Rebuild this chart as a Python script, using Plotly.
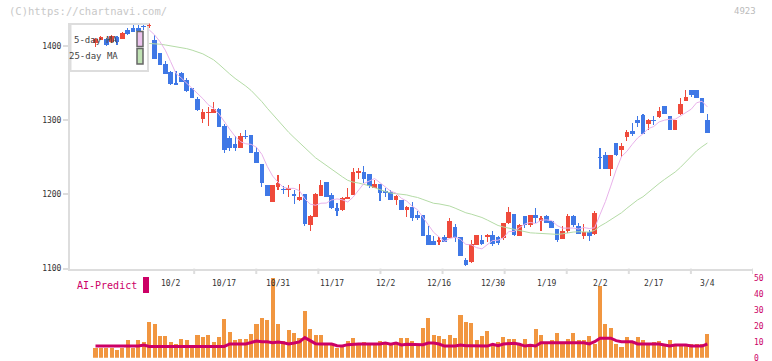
import numpy as np
import pandas as pd
import plotly.graph_objects as go

# ---------------- data ----------------
opens = [1403, 1408, 1409, 1405, 1412, 1409, 1421, 1424, 1424, 1427,
         1426, 1407, 1390, 1375, 1364, 1350, 1363, 1354, 1343, 1328,
         1302, 1309, 1309, 1315, 1292, 1276, 1268, 1262, 1278, 1280,
         1257, 1241, 1212, 1190, 1210, 1207, 1206, 1200, 1192, 1200,
         1159, 1170, 1198, 1216, 1199, 1181, 1179, 1194, 1199, 1229,
         1230, 1227, 1209, 1214, 1205, 1203, 1192, 1192, 1179, 1183,
         1172, 1172, 1145, 1137, 1136, 1142, 1141, 1156, 1143, 1111,
         1109, 1132, 1139, 1142, 1145, 1142, 1141, 1161, 1173, 1144,
         1171, 1159, 1172, 1164, 1171, 1164, 1153, 1140, 1150, 1171,
         1158, 1144, 1149, 1147, 1250, 1253, 1234, 1269, 1260, 1277,
         1285, 1300, 1307, 1295, 1300, 1304, 1319, 1305, 1287, 1308,
         1325, 1341, 1341, 1330, 1300]
highs = [1410, 1413, 1410, 1414, 1413, 1419, 1424, 1428, 1428, 1428,
         1430, 1415, 1390, 1380, 1366, 1366, 1364, 1356, 1343, 1331,
         1315, 1318, 1324, 1316, 1294, 1279, 1278, 1282, 1286, 1280,
         1264, 1241, 1212, 1212, 1226, 1211, 1212, 1206, 1214, 1200,
         1172, 1202, 1219, 1217, 1202, 1188, 1197, 1209, 1235, 1236,
         1238, 1227, 1219, 1214, 1209, 1206, 1199, 1193, 1184, 1190,
         1177, 1172, 1157, 1144, 1143, 1145, 1168, 1160, 1143, 1114,
         1139, 1145, 1145, 1146, 1150, 1144, 1162, 1183, 1174, 1160,
         1171, 1172, 1182, 1171, 1172, 1164, 1153, 1157, 1173, 1172,
         1161, 1160, 1152, 1177, 1262, 1257, 1253, 1269, 1269, 1287,
         1296, 1305, 1308, 1301, 1305, 1317, 1319, 1305, 1300, 1329,
         1341, 1341, 1341, 1330, 1308]
lows = [1398, 1407, 1400, 1404, 1401, 1409, 1415, 1419, 1420, 1421,
        1424, 1382, 1374, 1362, 1347, 1347, 1351, 1338, 1329, 1312,
        1296, 1292, 1309, 1291, 1256, 1258, 1258, 1262, 1274, 1256,
        1242, 1210, 1198, 1190, 1206, 1200, 1197, 1187, 1191, 1157,
        1151, 1170, 1198, 1196, 1180, 1171, 1177, 1194, 1199, 1220,
        1215, 1209, 1209, 1191, 1197, 1192, 1186, 1179, 1170, 1164,
        1165, 1144, 1132, 1132, 1132, 1136, 1141, 1136, 1117, 1104,
        1108, 1132, 1132, 1136, 1130, 1132, 1139, 1160, 1144, 1144,
        1154, 1156, 1161, 1151, 1161, 1154, 1136, 1140, 1148, 1156,
        1147, 1140, 1137, 1145, 1234, 1234, 1225, 1252, 1250, 1272,
        1278, 1291, 1281, 1286, 1293, 1303, 1308, 1287, 1287, 1307,
        1325, 1331, 1330, 1310, 1283]
closes = [1409, 1412, 1401, 1413, 1405, 1417, 1416, 1419, 1420, 1425,
          1427, 1382, 1374, 1362, 1348, 1347, 1351, 1339, 1329, 1314,
          1311, 1310, 1315, 1291, 1260, 1262, 1262, 1279, 1277, 1256,
          1242, 1215, 1198, 1212, 1215, 1206, 1209, 1198, 1196, 1160,
          1171, 1201, 1212, 1197, 1181, 1178, 1195, 1197, 1230, 1231,
          1220, 1211, 1214, 1202, 1202, 1192, 1198, 1179, 1183, 1168,
          1168, 1144, 1132, 1132, 1139, 1136, 1164, 1141, 1117, 1105,
          1133, 1145, 1133, 1145, 1133, 1135, 1161, 1176, 1145, 1159,
          1159, 1172, 1168, 1168, 1161, 1154, 1139, 1150, 1171, 1159,
          1147, 1149, 1144, 1175, 1249, 1234, 1253, 1253, 1265, 1284,
          1281, 1296, 1281, 1300, 1298, 1312, 1308, 1287, 1300, 1321,
          1331, 1334, 1330, 1310, 1283]
volume = [6.3, 6.3, 6.3, 6.3, 4.8, 6.3, 11.1, 6.3, 11.1, 10.1,
          22.2, 21.2, 13.6, 13.6, 9.9, 8.6, 11.7, 11.1, 6.3, 14.3,
          13.2, 14.3, 9.9, 13.2, 24.3, 16.4, 11.1, 11.7, 11.7, 14.9,
          21.2, 24.9, 23.7, 52.0, 21.2, 10.7, 17.4, 15.7, 12.6, 29.4,
          18.0, 14.3, 14.3, 8.6, 8.6, 6.3, 6.9, 10.7, 12.4, 8.6,
          10.1, 8.6, 8.6, 10.5, 8.6, 8.6, 8.6, 12.3, 12.3, 10.6,
          8.8, 18.4, 24.7, 14.0, 13.4, 11.7, 14.0, 12.4, 26.8, 22.2,
          21.8, 11.1, 13.6, 16.6, 8.6, 9.6, 12.8, 11.7, 11.7, 8.6,
          11.7, 8.6, 17.8, 14.3, 8.6, 11.1, 15.5, 8.6, 11.7, 15.5,
          10.9, 10.9, 13.4, 8.6, 44.7, 21.2, 18.4, 8.6, 6.5, 13.0,
          10.7, 13.0, 10.9, 9.4, 9.6, 10.5, 8.4, 11.1, 8.6, 8.6,
          8.6, 8.6, 8.6, 8.6, 14.9]
ai_predict = [7.3, 7.3, 7.3, 7.3, 7.3, 7.3, 7.3, 7.3, 7.3, 8.0,
              7.1, 7.1, 7.1, 7.1, 7.1, 7.1, 7.1, 7.1, 7.1, 7.1,
              7.1, 7.1, 7.1, 7.1, 7.1, 8.6, 8.6, 8.6, 8.6, 9.5,
              10.5, 10.0, 10.0, 9.4, 9.9, 9.4, 8.6, 9.2, 9.9, 12.6,
              10.9, 8.8, 8.6, 8.6, 8.6, 7.5, 7.3, 8.2, 8.6, 8.6,
              8.6, 8.6, 8.6, 8.6, 9.2, 8.4, 9.2, 8.0, 8.4, 8.4,
              8.4, 8.2, 9.2, 9.2, 8.6, 7.3, 7.3, 7.3, 8.0, 7.5,
              7.5, 7.3, 7.3, 7.3, 8.4, 7.5, 8.6, 8.6, 9.0, 8.4,
              7.3, 7.8, 7.3, 9.4, 9.4, 9.4, 9.4, 9.4, 9.4, 9.4,
              9.4, 9.4, 8.6, 10.0, 12.2, 12.2, 12.2, 10.7, 10.0, 10.0,
              10.0, 8.6, 8.6, 8.6, 8.6, 8.6, 8.0, 7.3, 8.0, 8.0,
              8.0, 7.3, 7.3, 7.3, 8.6]
# 25-day MA for days 10..23 (earlier history not on the chart)
ma25_early = [1403, 1403, 1402, 1401, 1400, 1399, 1397, 1396, 1394, 1392,
              1389, 1385, 1381, 1375]
date_labels = ["10/2", "10/17", "10/31", "11/17", "12/2", "12/16",
               "12/30", "1/19", "2/2", "2/17", "3/4"]
date_label_idx = [14, 24, 34, 44, 54, 64, 74, 84, 94, 104, 114]
price_ticks = [1100, 1200, 1300, 1400]
vol_ticks = [0, 10, 20, 30, 40, 50]

# ---------------- derived ----------------
n = len(closes)
x = np.arange(n)
O = np.array(opens, float); C = np.array(closes, float)
H = np.array(highs, float); L = np.array(lows, float)
s = pd.Series(C)
ma5 = s.rolling(5).mean().to_numpy()
ma5[:10] = np.nan
ma25 = s.rolling(25).mean().to_numpy()
ma25[:10] = np.nan
ma25[10:10 + len(ma25_early)] = ma25_early

RED = "#ef4a3b"
BLUE = "#3f78e6"
colors = np.where(C >= O, RED, BLUE)
body_base = np.minimum(O, C)
body_h = np.maximum(np.abs(C - O), 1.3)

FONT = "DejaVu Sans Mono"
W, Hh = 772, 361
def px_x(p):
    return p / W
def px_y(p):
    return (Hh - p) / Hh

XR = [-4.75, 122.5]

fig = go.Figure()
fig.add_trace(go.Scatter(x=x, y=ma25, mode="lines", line=dict(color="#b4dba6", width=1),
                         xaxis="x", yaxis="y", hoverinfo="skip"))
fig.add_trace(go.Scatter(x=x, y=ma5, mode="lines", line=dict(color="#e8b2ea", width=1),
                         xaxis="x", yaxis="y", hoverinfo="skip"))
fig.add_trace(go.Bar(x=x, y=H - L, base=L, width=0.2, marker=dict(color=colors, line=dict(width=0)),
                     xaxis="x", yaxis="y"))
fig.add_trace(go.Bar(x=x, y=body_h, base=body_base, width=0.86,
                     marker=dict(color=colors, line=dict(width=0)), xaxis="x", yaxis="y"))
fig.add_trace(go.Bar(x=x, y=volume, width=0.76, marker=dict(color="#f19640", line=dict(width=0)),
                     xaxis="x2", yaxis="y2"))
fig.add_trace(go.Scatter(x=x, y=ai_predict, mode="lines", line=dict(color="#cc0066", width=3),
                         xaxis="x2", yaxis="y2"))

shapes = []
# x tick marks (evenly spaced grid ticks below the price axis)
step = (XR[1] - XR[0]) / 11
for k in range(2, 12):
    xv = XR[0] + k * step
    shapes.append(dict(type="line", xref="x", yref="paper", x0=xv, x1=xv,
                       y0=px_y(268.6), y1=px_y(274), line=dict(color="#dddddd", width=2)))
# legend box (price chart)
shapes.append(dict(type="rect", xref="paper", yref="paper", x0=px_x(70.5), x1=px_x(148),
                   y0=px_y(71), y1=px_y(24), fillcolor="white", line=dict(color="#dddddd", width=2),
                   layer="below"))
shapes.append(dict(type="rect", xref="paper", yref="paper", x0=px_x(137), x1=px_x(143),
                   y0=px_y(46.5), y1=px_y(31.5), fillcolor="#ecc4ee", line=dict(color="#666666", width=1.5)))
shapes.append(dict(type="rect", xref="paper", yref="paper", x0=px_x(137), x1=px_x(143),
                   y0=px_y(64), y1=px_y(48.5), fillcolor="#c0e2b4", line=dict(color="#666666", width=1.5)))
# AI-Predict swatch
shapes.append(dict(type="rect", xref="paper", yref="paper", x0=px_x(143), x1=px_x(149),
                   y0=px_y(293), y1=px_y(277), fillcolor="#cc0066", line=dict(width=0)))

ann = []
for lbl, i in zip(date_labels, date_label_idx):
    ann.append(dict(x=i, y=px_y(283), xref="x", yref="paper", text=lbl, showarrow=False,
                    font=dict(family=FONT, size=8, color="#333333"), xanchor="center", yanchor="middle"))
ann.append(dict(x=px_x(120), y=px_y(40), xref="paper", yref="paper", text="5-day MA", showarrow=False,
                font=dict(family=FONT, size=9, color="#444444"), xanchor="right", yanchor="middle"))
ann.append(dict(x=px_x(120), y=px_y(56.5), xref="paper", yref="paper", text="25-day MA", showarrow=False,
                font=dict(family=FONT, size=9, color="#444444"), xanchor="right", yanchor="middle"))
ann.append(dict(x=px_x(75), y=px_y(285.5), xref="paper", yref="paper", text="AI-Predict", showarrow=False,
                font=dict(family=FONT, size=10, color="#cc0066"), xanchor="left", yanchor="middle"))
ann.append(dict(x=px_x(7), y=px_y(11), xref="paper", yref="paper", text="(C)https://chartnavi.com/",
                showarrow=False, font=dict(family=FONT, size=10.5, color="#c8c8c8"),
                xanchor="left", yanchor="middle"))
ann.append(dict(x=px_x(758), y=px_y(11), xref="paper", yref="paper", text="4923",
                showarrow=False, font=dict(family=FONT, size=9, color="#bbbbbb"),
                xanchor="right", yanchor="middle"))

fig.update_layout(
    width=W, height=Hh, margin=dict(l=0, r=0, t=0, b=0, autoexpand=False), autosize=False,
    paper_bgcolor="white", plot_bgcolor="white", showlegend=False,
    barmode="overlay", bargap=0,
    xaxis=dict(domain=[px_x(70), px_x(753)], range=XR, showgrid=False, zeroline=False,
               showline=True, linecolor="#dddddd", linewidth=2, showticklabels=False, ticks="",
               anchor="y", automargin=False),
    yaxis=dict(domain=[px_y(268.6), px_y(23.4)], range=[1100, 1430], tickvals=price_ticks,
               showgrid=False, zeroline=False, showline=True, linecolor="#dddddd", linewidth=2,
               ticks="outside", ticklen=5, tickwidth=2, tickcolor="#dddddd",
               tickfont=dict(family=FONT, size=8, color="#333333"), anchor="x", automargin=False,
               ticklabeloverflow="allow"),
    xaxis2=dict(domain=[px_x(70), px_x(753)], range=XR, showgrid=False, zeroline=False,
                showline=False, showticklabels=False, ticks="", anchor="y2", automargin=False),
    yaxis2=dict(domain=[px_y(357.7), px_y(278)], range=[0, 50], tickvals=vol_ticks, side="right",
                showgrid=False, zeroline=False, showline=False, ticks="",
                tickfont=dict(family=FONT, size=8, color="#cc0066"), anchor="x2", automargin=False,
                ticklabeloverflow="allow"),
    shapes=shapes, annotations=ann,
)

PAGE_FIX = (
    "var de=document.documentElement, b=document.body;"
    "[de,b].forEach(function(e){e.style.margin='0';e.style.padding='0';"
    "e.style.width='772px';e.style.height='361px';e.style.overflow='hidden';});"
    "var d=document.getElementById('{plot_id}');"
    "d.style.width='772px';d.style.height='361px';d.style.overflow='hidden';"
    "if(d.parentElement){d.parentElement.style.width='772px';d.parentElement.style.height='361px';"
    "d.parentElement.style.overflow='hidden';d.parentElement.style.lineHeight='0';}"
)

fig.write_html(
    "out.html",
    config=dict(displayModeBar=False, staticPlot=True, responsive=False),
    default_width="772px",
    default_height="361px",
    post_script=PAGE_FIX,
)
